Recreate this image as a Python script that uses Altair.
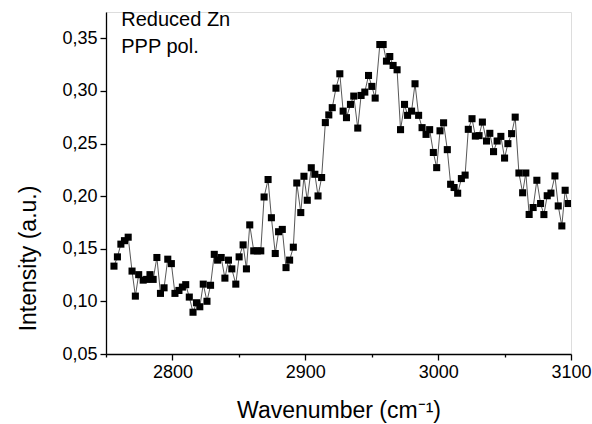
import altair as alt
import pandas as pd

wavenumber = [
    2756.0, 2758.6, 2761.2, 2763.9, 2766.7, 2769.6, 2772.1, 2774.6, 2778.0, 2780.6,
    2783.1, 2785.5, 2788.3, 2791.0, 2793.7, 2796.5, 2799.2, 2801.9, 2804.9, 2807.5,
    2810.0, 2812.7, 2815.5, 2818.1, 2820.6, 2823.2, 2826.0, 2828.7, 2831.5, 2834.0,
    2836.7, 2839.5, 2842.2, 2844.7, 2847.7, 2850.2, 2853.2, 2855.7, 2858.2, 2861.2,
    2863.9, 2866.5, 2869.0, 2872.0, 2874.5, 2877.4, 2879.9, 2882.7, 2885.5, 2888.2,
    2891.0, 2893.6, 2896.6, 2899.0, 2901.5, 2904.5, 2907.2, 2909.6, 2912.3, 2915.1,
    2917.7, 2920.3, 2923.1, 2926.0, 2928.5, 2931.0, 2934.0, 2936.5, 2939.5, 2942.0,
    2944.8, 2947.6, 2950.1, 2952.6, 2956.1, 2958.6, 2961.1, 2963.6, 2966.1, 2969.1,
    2971.7, 2974.7, 2977.0, 2980.0, 2982.6, 2985.3, 2987.9, 2990.9, 2993.6, 2996.4,
    2998.9, 3001.4, 3004.1, 3006.9, 3009.4, 3012.0, 3014.7, 3017.5, 3020.3, 3022.7,
    3025.5, 3028.0, 3030.8, 3033.3, 3036.4, 3038.9, 3041.7, 3044.4, 3047.2, 3050.0,
    3052.5, 3055.3, 3058.0, 3060.8, 3063.6, 3066.0, 3068.5, 3071.5, 3074.3, 3077.1,
    3079.6, 3082.1, 3084.9, 3087.9, 3090.4, 3093.1, 3095.6, 3097.9,
]

intensity = [
    0.1335, 0.1423, 0.1544, 0.1577, 0.1610, 0.1288, 0.1050, 0.1254, 0.1202, 0.1209,
    0.1254, 0.1209, 0.1417, 0.1076, 0.1129, 0.1401, 0.1359, 0.1076, 0.1104, 0.1136,
    0.1159, 0.1041, 0.0897, 0.0987, 0.0949, 0.1164, 0.1001, 0.1153, 0.1447, 0.1392,
    0.1417, 0.1221, 0.1392, 0.1309, 0.1164, 0.1423, 0.1537, 0.1309, 0.1727, 0.1480,
    0.1480, 0.1480, 0.1992, 0.2158, 0.1795, 0.1455, 0.1662, 0.1684, 0.1321, 0.1392,
    0.1515, 0.2125, 0.1844, 0.2189, 0.1961, 0.2270, 0.2208, 0.2002, 0.2177, 0.2699,
    0.2772, 0.2841, 0.3026, 0.3163, 0.2808, 0.2746, 0.2872, 0.2951, 0.2647, 0.2957,
    0.2989, 0.3147, 0.3043, 0.2932, 0.3441, 0.3441, 0.3283, 0.3327, 0.3242, 0.3201,
    0.2632, 0.2872, 0.2768, 0.2808, 0.3068, 0.2768, 0.2651, 0.2587, 0.2632, 0.2415,
    0.2271, 0.2621, 0.2697, 0.2442, 0.2113, 0.2082, 0.2028, 0.2167, 0.2200, 0.2635,
    0.2736, 0.2571, 0.2575, 0.2704, 0.2524, 0.2597, 0.2423, 0.2524, 0.2568, 0.2362,
    0.2499, 0.2594, 0.2751, 0.2220, 0.2032, 0.2220, 0.1826, 0.1892, 0.2151, 0.1930,
    0.1825, 0.2004, 0.2029, 0.2192, 0.1907, 0.1717, 0.2056, 0.1930,
]

x_ticks = [2750, 2800, 2850, 2900, 2950, 3000, 3050, 3100]
y_ticks = [0.05, 0.075, 0.10, 0.125, 0.15, 0.175, 0.20, 0.225, 0.25, 0.275, 0.30, 0.325, 0.35]

note_lines = ["Reduced Zn", "PPP pol."]
note_x = [2761.5, 2761.5]
note_y = [0.3615, 0.3365]

FONT = "Liberation Sans"

df = pd.DataFrame({"w": wavenumber, "i": intensity, "order": list(range(len(wavenumber)))})
notes = pd.DataFrame({"text": note_lines, "x": note_x, "y": note_y})

x_scale = alt.Scale(domain=[2750, 3100], nice=False, zero=False)
y_scale = alt.Scale(domain=[0.05, 0.375], nice=False, zero=False)

x_axis = alt.Axis(
    values=x_ticks,
    labelExpr="datum.value % 100 == 0 ? datum.value : ''",
    tickSize={"condition": {"test": "datum.value % 100 != 0", "value": 3}, "value": 6},
    labelFlush=False,
    labelOverlap=False,
    labelPadding=3,
    labelFontSize=18,
    labelFont=FONT,
    labelColor="black",
    domainColor="black",
    domainWidth=1.3,
    tickColor="black",
    tickWidth=1.3,
    grid=False,
    title="Wavenumber (cm⁻¹)",
    titleFont=FONT,
    titleFontSize=23,
    titleFontWeight="normal",
    titleColor="black",
    titleBaseline="alphabetic",
    titleY=63,
)

y_axis = alt.Axis(
    values=y_ticks,
    labelExpr="round(datum.value*1000) % 50 == 0 ? replace(format(datum.value, '.2f'), '.', ',') : ''",
    tickSize={"condition": {"test": "round(datum.value*1000) % 50 != 0", "value": 3}, "value": 6},
    labelFlush=False,
    labelOverlap=False,
    labelPadding=3,
    labelFontSize=18,
    labelFont=FONT,
    labelColor="black",
    domainColor="black",
    domainWidth=1.3,
    tickColor="black",
    tickWidth=1.3,
    grid=False,
    title="Intensity (a.u.)",
    titleFont=FONT,
    titleFontSize=23,
    titleFontWeight="normal",
    titleColor="black",
    titleBaseline="alphabetic",
    titleX=-71,
    titleY=246,
)

base = alt.Chart(df).encode(
    x=alt.X("w:Q", scale=x_scale, axis=x_axis),
    y=alt.Y("i:Q", scale=y_scale, axis=y_axis),
    order="order:Q",
)

line = base.mark_line(color="#444444", strokeWidth=0.9, clip=True)
pts = base.mark_point(shape="square", filled=True, size=50, color="black", opacity=1, clip=True)

text = alt.Chart(notes).mark_text(
    align="left", baseline="alphabetic", font=FONT, fontSize=20, color="black"
).encode(
    x=alt.X("x:Q", scale=x_scale),
    y=alt.Y("y:Q", scale=y_scale),
    text="text:N",
)

chart = alt.layer(line, pts, text).properties(
    width=465,
    height=342,
    autosize=alt.AutoSizeParams(type="none"),
    padding={"left": 106, "top": 12, "right": 21, "bottom": 70},
).configure_view(stroke=None).configure(background="white")

chart.save("out.html", embed_options={"renderer": "svg", "actions": False})
